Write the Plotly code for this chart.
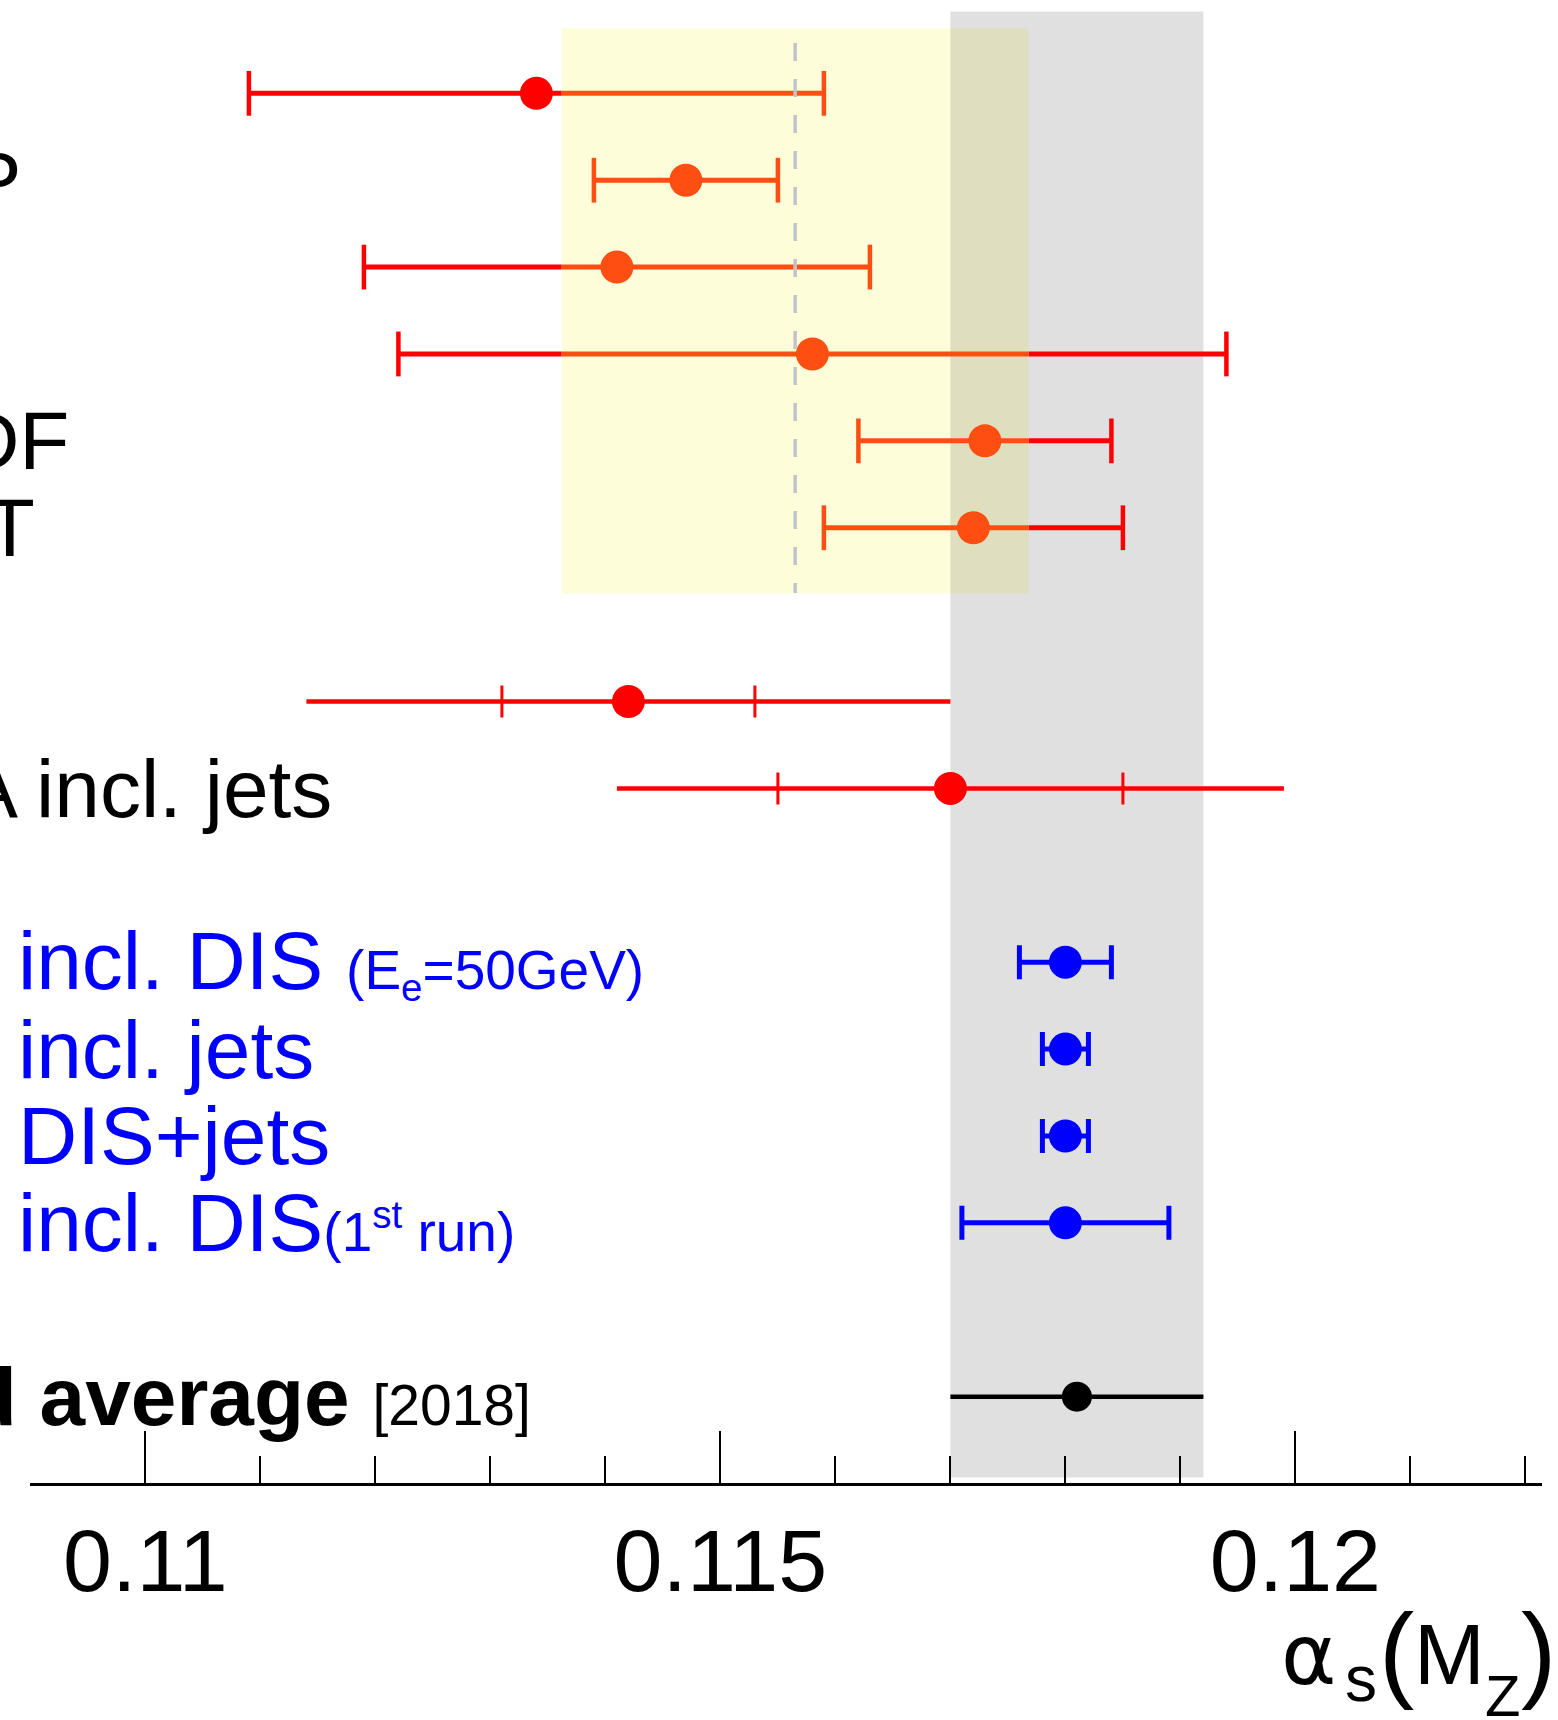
import plotly.graph_objects as go

# ---------------- data ----------------
# upper group (PDF fits / DIS), row index from top
top_rows = [0, 1, 2, 3, 4, 5]
top_vals = [0.1134, 0.1147, 0.1141, 0.1158, 0.1173, 0.1172]
top_errs = [0.0025, 0.0008, 0.0022, 0.0036, 0.0011, 0.0013]

# jet measurements (inner = exp., outer = total)
jet_rows = [7, 8]
jet_vals = [0.1142, 0.1170]
jet_err_inner = [0.0011, 0.0015]
jet_err_outer = [0.0028, 0.0029]

# projections (blue)
blue_rows = [10, 11, 12, 13]
blue_vals = [0.1180, 0.1180, 0.1180, 0.1180]
blue_errs = [0.0004, 0.0002, 0.0002, 0.0009]

# world average
wa_row = 15
wa_val = 0.1181
wa_err = 0.0011

# DIS pre-average (yellow band + dashed line)
dis_avg = 0.11565
dis_err = 0.00203

major_ticks = [0.11, 0.115, 0.12]
major_labels = ["0.11", "0.115", "0.12"]
minor_ticks = [0.109, 0.111, 0.112, 0.113, 0.114, 0.116, 0.117, 0.118,
               0.119, 0.121, 0.122]

# ---------------- styling ----------------
W, H = 1558, 1720
ML, MR, MT, MB = 30, 16, 0, 237
PW = W - ML - MR
PH = H - MT - MB
FONT = "Liberation Sans"
RED = "#ff0000"
ORANGE = "#ff4e12"
BLUE = "#0000ff"
MSIZE = 33


def px_x(px):
    return (px - ML) / PW


def py_paper(py):
    return 1 - (py - MT) / PH


dis_lo, dis_hi = dis_avg - dis_err, dis_avg + dis_err

fig = go.Figure()

# split error bars of the upper group into red (outside band) and orange (inside band)
red_x, red_y, or_x, or_y = [], [], [], []
for r, v, e in zip(top_rows, top_vals, top_errs):
    lo, hi = v - e, v + e
    if lo < dis_lo:
        red_x += [lo, min(hi, dis_lo), None]
        red_y += [r, r, None]
    if hi > dis_hi:
        red_x += [max(lo, dis_hi), hi, None]
        red_y += [r, r, None]
    a, b = max(lo, dis_lo), min(hi, dis_hi)
    if b > a:
        or_x += [a, b, None]
        or_y += [r, r, None]

fig.add_trace(go.Scatter(x=red_x, y=red_y, mode="lines",
                         line=dict(color=RED, width=5), hoverinfo="skip"))
fig.add_trace(go.Scatter(x=or_x, y=or_y, mode="lines",
                         line=dict(color=ORANGE, width=5), hoverinfo="skip"))


def band_col(x):
    return ORANGE if dis_lo <= x <= dis_hi else RED


cap_x, cap_y, cap_c = [], [], []
for r, v, e in zip(top_rows, top_vals, top_errs):
    for xx in (v - e, v + e):
        cap_x.append(xx)
        cap_y.append(r)
        cap_c.append(band_col(xx))
fig.add_trace(go.Scatter(x=cap_x, y=cap_y, mode="markers",
                         marker=dict(symbol="line-ns", size=32,
                                     line=dict(color=cap_c, width=4.5)),
                         hoverinfo="skip"))
fig.add_trace(go.Scatter(x=top_vals, y=top_rows, mode="markers",
                         marker=dict(size=MSIZE, color=[band_col(v) for v in top_vals],
                                     line=dict(width=0))))

# jets: outer total error (no caps) and inner ticks
fig.add_trace(go.Scatter(x=jet_vals, y=jet_rows, mode="markers",
                         marker=dict(size=0.1, color=RED),
                         error_x=dict(type="data", array=jet_err_outer, color=RED,
                                      thickness=4.5, width=0)))
fig.add_trace(go.Scatter(x=jet_vals, y=jet_rows, mode="markers",
                         marker=dict(size=MSIZE, color=RED, line=dict(width=0)),
                         error_x=dict(type="data", array=jet_err_inner, color=RED,
                                      thickness=3, width=16)))

# blue projections
fig.add_trace(go.Scatter(x=blue_vals, y=blue_rows, mode="markers",
                         marker=dict(size=MSIZE, color=BLUE, line=dict(width=0)),
                         error_x=dict(type="data", array=blue_errs, color=BLUE,
                                      thickness=5, width=17)))

# world average
fig.add_trace(go.Scatter(x=[wa_val], y=[wa_row], mode="markers",
                         marker=dict(size=30, color="black", line=dict(width=0)),
                         error_x=dict(type="data", array=[wa_err], color="black",
                                      thickness=4.5, width=0)))

shapes = [
    dict(type="rect", xref="x", yref="y", x0=dis_lo, x1=dis_hi, y0=-0.746, y1=5.758,
         fillcolor="#fefdd9", line=dict(width=0), layer="below"),
    dict(type="rect", xref="x", yref="y", x0=wa_val - wa_err, x1=wa_val + wa_err,
         y0=-0.941, y1=15.93, fillcolor="rgba(0,0,0,0.122)", line=dict(width=0),
         layer="below"),
    dict(type="line", xref="x", yref="y", x0=dis_avg, x1=dis_avg, y0=-0.58, y1=5.75,
         line=dict(color="#c2c3cb", width=3.5, dash="18px,18px"), layer="above"),
]

BIG = 82


def ann(text, px, row, anchor, color="black", size=BIG):
    return dict(text=text, xref="paper", yref="y", x=px_x(px), y=row,
                xanchor=anchor, yanchor="middle", showarrow=False,
                font=dict(family=FONT, size=size, color=color))


def title_piece(text, px_left, baseline, size, family=FONT):
    center = baseline - 0.3465 * size
    return dict(text=text, xref="paper", yref="paper", x=px_x(px_left),
                y=py_paper(center), xanchor="left", yanchor="middle",
                showarrow=False, borderpad=0,
                font=dict(family=family, size=size, color="black"))


annotations = [
    ann("ABMP", 23, 1, "right"),
    ann("NNPDF", 71, 4, "right"),
    ann("MMHT", 37, 5, "right"),
    ann("HERA incl. jets", 334, 8, "right"),
    ann("incl. DIS <span style='font-size:55px'>(E<sub>e</sub>=50GeV)</span>", 16, 10,
        "left", BLUE),
    ann("incl. jets", 16, 11, "left", BLUE),
    ann("DIS+jets", 16, 12, "left", BLUE),
    ann("incl. DIS<span style='font-size:55px'>(1<sup>st</sup> run)</span>", 16, 13,
        "left", BLUE),
    ann("<b>World average</b> <span style='font-size:57px'>[2018]</span>", 533, 15,
        "right"),
    # axis title  alpha_s (M_Z)
    title_piece("α", 1280, 1684, 84, "DejaVu Sans"),
    title_piece("s", 1344, 1701, 64),
    title_piece("(", 1378, 1688, 106),
    title_piece("M", 1413, 1684, 85),
    title_piece("Z", 1484, 1716, 58),
    title_piece(")", 1520, 1688, 106),
]

fig.update_layout(
    width=W, height=H,
    margin=dict(l=ML, r=MR, t=MT, b=MB, pad=0),
    paper_bgcolor="white", plot_bgcolor="white",
    showlegend=False,
    shapes=shapes, annotations=annotations,
    xaxis=dict(range=[0.109 - 0.4 / 115000, 0.109 - 0.4 / 115000 + PW / 115000],
               showgrid=False, zeroline=False,
               showline=True, linecolor="black", linewidth=2.5,
               ticks="inside", ticklen=52, tickwidth=2.2, tickcolor="black",
               tickmode="array", tickvals=major_ticks, ticktext=major_labels,
               tickfont=dict(family=FONT, size=88, color="black"),
               ticklabelstandoff=0,
               minor=dict(tickmode="array", tickvals=minor_ticks, ticks="inside",
                          ticklen=27, tickwidth=2.2, tickcolor="black",
                          showgrid=False)),
    yaxis=dict(range=[15.994, -1.074], visible=False, showgrid=False,
               zeroline=False),
)

fig.write_html("out.html")
